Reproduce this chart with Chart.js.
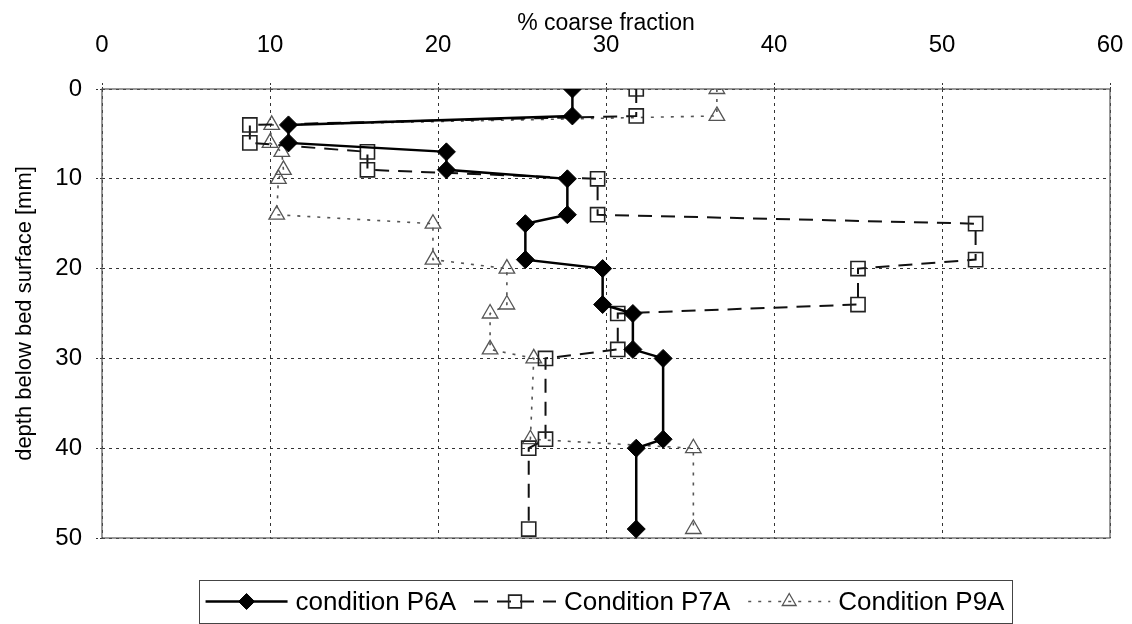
<!DOCTYPE html>
<html><head><meta charset="utf-8">
<script src="https://cdn.jsdelivr.net/npm/chart.js@4.4.1/dist/chart.umd.min.js"></script>
<style>html,body{margin:0;padding:0;background:#fff;}canvas{display:block;}</style>
</head><body>
<canvas id="c" width="1132" height="624"></canvas>
<script>
// ---- data ----
const depths = [0, 3, 4, 6, 7, 9, 10, 14, 15, 19, 20, 24, 25, 29, 30, 39, 40, 49];
const p6a = [28.0, 28.0, 11.1, 11.1, 20.5, 20.5, 27.7, 27.7, 25.2, 25.2, 29.8, 29.8, 31.6, 31.6, 33.4, 33.4, 31.8, 31.8];
const p7a = [31.8, 31.8, 8.8, 8.8, 15.8, 15.8, 29.5, 29.5, 52.0, 52.0, 45.0, 45.0, 30.7, 30.7, 26.4, 26.4, 25.4, 25.4];
const p9a = [36.6, 36.6, 10.1, 10.0, 10.7, 10.8, 10.5, 10.4, 19.7, 19.7, 24.1, 24.1, 23.1, 23.1, 25.7, 25.5, 35.2, 35.2];
const seriesNames = ['condition P6A', 'Condition P7A', 'Condition P9A'];
const xTicks = [0, 10, 20, 30, 40, 50, 60];
const yTicks = [0, 10, 20, 30, 40, 50];
const xTitle = '% coarse fraction';
const yTitle = 'depth below bed surface [mm]';

const FONT = "'Liberation Sans', Arial, sans-serif";
const toPts = arr => arr.map((v, i) => ({x: v, y: depths[i]}));

const styles = [
  {color: '#000', width: 2.5, dash: [], marker: 'rectRot', radius: 9, fill: '#000', mBorder: '#000', mWidth: 1},
  {color: '#111', width: 2, dash: [14, 9], marker: 'rect', radius: 10, fill: 'rgba(255,255,255,0)', mBorder: '#222', mWidth: 1.6},
  {color: '#555', width: 1.6, dash: [3, 7], marker: 'triangle', radius: 9, fill: 'rgba(255,255,255,0)', mBorder: '#555', mWidth: 1.3}
];

function drawMarker(ctx, s, x, y) {
  ctx.save();
  ctx.setLineDash([]);
  ctx.fillStyle = s.fill; ctx.strokeStyle = s.mBorder; ctx.lineWidth = s.mWidth;
  const r = s.radius;
  ctx.beginPath();
  if (s.marker === 'rectRot') {
    ctx.moveTo(x, y - r); ctx.lineTo(x + r, y); ctx.lineTo(x, y + r); ctx.lineTo(x - r, y); ctx.closePath();
  } else if (s.marker === 'rect') {
    const h = r * Math.SQRT1_2;
    ctx.rect(x - h, y - h, 2 * h, 2 * h);
  } else {
    ctx.moveTo(x, y - r); ctx.lineTo(x + r * 0.866, y + r * 0.5); ctx.lineTo(x - r * 0.866, y + r * 0.5); ctx.closePath();
  }
  ctx.fill(); ctx.stroke();
  ctx.restore();
}

const framePlugin = {
  id: 'frame',
  beforeDatasetsDraw(chart) {
    const {ctx, chartArea: a} = chart;
    ctx.save();
    ctx.strokeStyle = '#555'; ctx.lineWidth = 1.2; ctx.setLineDash([]);
    ctx.strokeRect(a.left, a.top, a.right - a.left, a.bottom - a.top);
    ctx.restore();
  }
};

const legendPlugin = {
  id: 'boxLegend',
  afterDraw(chart) {
    const ctx = chart.ctx;
    ctx.save();
    ctx.font = '26px ' + FONT;
    const sampleW = 82, gapText = 8, gapItem = 18, pad = 7;
    const widths = seriesNames.map(n => ctx.measureText(n).width);
    let total = pad * 2;
    widths.forEach((w, i) => { total += sampleW + gapText + w + (i < widths.length - 1 ? gapItem : 0); });
    const cx = 605, yTop = 580, h = 43, cy = yTop + h / 2;
    const left = cx - total / 2;
    ctx.strokeStyle = '#444'; ctx.lineWidth = 1;
    ctx.strokeRect(Math.round(left) + 0.5, yTop + 0.5, Math.round(total), h);
    let x = left + pad;
    seriesNames.forEach((name, i) => {
      const s = Object.assign({}, styles[i], {radius: styles[i].radius - 1});
      ctx.strokeStyle = s.color; ctx.lineWidth = s.width; ctx.setLineDash(s.dash);
      ctx.beginPath(); ctx.moveTo(x, cy); ctx.lineTo(x + sampleW, cy); ctx.stroke();
      drawMarker(ctx, s, x + sampleW / 2, cy);
      x += sampleW + gapText;
      ctx.fillStyle = '#000'; ctx.textBaseline = 'middle'; ctx.textAlign = 'left';
      ctx.fillText(name, x, cy + 1);
      x += widths[i] + gapItem;
    });
    ctx.restore();
  }
};

const datasets = [p6a, p7a, p9a].map((arr, i) => ({
  label: seriesNames[i],
  data: toPts(arr),
  showLine: true,
  borderColor: styles[i].color,
  borderWidth: styles[i].width,
  borderDash: styles[i].dash,
  pointStyle: styles[i].marker,
  pointRadius: styles[i].radius,
  pointHoverRadius: styles[i].radius,
  pointBackgroundColor: styles[i].fill,
  pointBorderColor: styles[i].mBorder,
  pointBorderWidth: styles[i].mWidth,
  tension: 0,
  fill: false
}));

new Chart(document.getElementById('c'), {
  type: 'scatter',
  data: {datasets},
  options: {
    responsive: false,
    animation: false,
    devicePixelRatio: 1,
    layout: {padding: {left: 12, right: 22, top: 10, bottom: 86}},
    plugins: {legend: {display: false}, tooltip: {enabled: false}},
    scales: {
      x: {
        type: 'linear', position: 'top', min: 0, max: 60,
        afterBuildTicks: sc => { sc.ticks = xTicks.map(v => ({value: v})); },
        afterFit: sc => { sc.height = 79; sc.paddingLeft = 0; sc.paddingRight = 0; },
        ticks: {color: '#000', font: {family: FONT, size: 24}, padding: 23},
        grid: {color: '#333', lineWidth: 1, tickLength: 6, tickBorderDash: [2, 2], tickColor: '#333'},
        border: {display: false, dash: [3, 4]},
        title: {display: true, text: xTitle, color: '#000', font: {family: FONT, size: 23}, padding: {top: 0, bottom: 0}}
      },
      y: {
        type: 'linear', reverse: true, min: 0, max: 50,
        afterBuildTicks: sc => { sc.ticks = yTicks.map(v => ({value: v})); },
        afterFit: sc => { sc.width = 90; sc.paddingTop = 0; sc.paddingBottom = 0; },
        ticks: {color: '#000', font: {family: FONT, size: 24}, padding: 14},
        grid: {color: '#333', lineWidth: 1, tickLength: 6, tickBorderDash: [2, 2], tickColor: '#333'},
        border: {display: false, dash: [3, 4]},
        title: {display: true, text: yTitle, color: '#000', font: {family: FONT, size: 22}, padding: {top: 0, bottom: 3}}
      }
    }
  },
  plugins: [framePlugin, legendPlugin]
});
</script>
</body></html>
